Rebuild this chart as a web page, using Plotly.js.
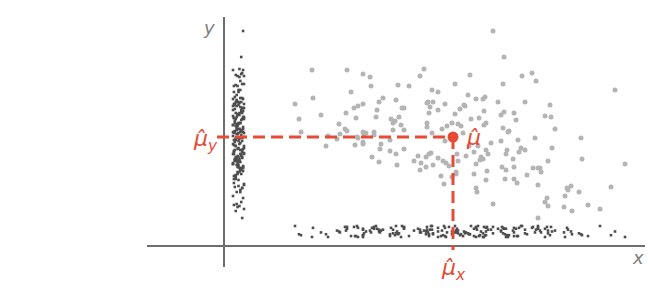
<!DOCTYPE html>
<html>
<head>
<meta charset="utf-8">
<script src="https://cdn.plot.ly/plotly-3.0.1.min.js"></script>
<style>html,body{margin:0;padding:0;background:#fff;}#chart{width:648px;height:300px;}</style>
</head>
<body>
<div id="chart"></div>
<script>
// scatter sample (x, y)
const sampleX = [88,123,139,146,147,174,127,71,89,159,155,172,139,134,130,153,122,97,75,132,152,167,169,115,175,77,104,121,123,113,116,102,131,133,134,139,142,140,139,139,150,150,157,156,166,166,172,148,155,173,169,171,177,
269,280,200,196,246,185,231,279,208,214,244,261,259,252,274,203,204,209,221,178,180,206,240,241,236,214,260,280,277,231,205,255,247,290,203,228,234,262,260,203,180,218,223,237,239,208,221,267,277,279,285,284,180,194,190,197,202,205,207,214,196,202,209,219,222,225,233,234,242,245,250,254,262,264,257,259,256,252,263,250,232,232,228,217,220,252,253,262,269,283,282,278,282,289,290,281,290,
298,308,312,391,301,326,321,327,292,331,311,357,294,297,295,301,328,324,358,401,309,314,316,317,303,293,314,343,344,347,355,387,341,323,321,324,340,348,364,376,314];
const sampleY = [176,176,172,169,160,161,154,142,148,148,144,146,142,140,138,136,133,131,127,128,129,127,123,122,129,114,110,117,115,107,112,100,101,109,108,114,113,112,104,102,114,111,102,97,106,95,92,89,84,81,116,125,121,
215,189,177,170,171,160,162,162,156,154,151,149,147,147,144,143,144,144,142,138,138,139,141,140,137,136,135,134,131,132,133,128,127,133,123,123,122,123,121,119,116,117,120,120,113,113,105,103,105,118,115,114,97,90,85,83,89,92,93,88,76,79,81,85,83,80,92,85,90,100,94,100,96,92,89,87,86,82,75,72,74,72,69,70,62,58,54,66,42,96,92,79,76,87,79,67,67,
170,173,165,156,144,141,130,129,126,117,108,108,106,98,94,96,98,85,87,82,78,78,78,74,71,63,61,58,56,60,54,59,50,48,44,40,39,35,41,37,28];

// estimated means
const muX = 229;
const muY = 109;

// rug placement (offset band from each axis) and axis labels
const rugBand = [9, 20];
const labels = {x: 'x', y: 'y', mu: 'μ̂', muX: 'μ̂<sub>x</sub>', muY: 'μ̂<sub>y</sub>'};

const red = '#e64b35';
// deterministic jitter inside the rug band
const jit = sampleX.map((_, i) => rugBand[0] + ((i * 37) % 13) / 12 * (rugBand[1] - rugBand[0]));

const traces = [
  {x: sampleX, y: sampleY, mode: 'markers', type: 'scatter',
   marker: {color: '#b4b4b4', size: 5}, hoverinfo: 'skip'},
  {x: jit, y: sampleY, mode: 'markers', type: 'scatter',
   marker: {color: '#4d4d4d', size: 2.6, symbol: 'square'}, hoverinfo: 'skip'},
  {x: sampleX, y: jit, mode: 'markers', type: 'scatter',
   marker: {color: '#4d4d4d', size: 2.6, symbol: 'square'}, hoverinfo: 'skip'},
  {x: [-7, muX], y: [muY, muY], mode: 'lines', type: 'scatter',
   line: {color: red, width: 3, dash: '12px,6px'}, hoverinfo: 'skip'},
  {x: [muX, muX], y: [muY, -4], mode: 'lines', type: 'scatter',
   line: {color: red, width: 3, dash: '12px,6px'}, hoverinfo: 'skip'},
  {x: [muX], y: [muY], mode: 'markers', type: 'scatter',
   marker: {color: red, size: 11}, hoverinfo: 'skip'}
];

const labFont = {family: 'DejaVu Sans', size: 22, color: red};
const axFont = {family: 'DejaVu Sans', size: 18, color: '#808080'};

const layout = {
  width: 648, height: 300,
  margin: {l: 147, r: 3, t: 17, b: 33},
  paper_bgcolor: '#fff', plot_bgcolor: '#fff',
  showlegend: false,
  xaxis: {range: [-77, 421], showgrid: false, showticklabels: false, ticks: '',
          zeroline: true, zerolinecolor: '#6e6e6e', zerolinewidth: 1.5, showline: false, fixedrange: true},
  yaxis: {range: [-21, 229], showgrid: false, showticklabels: false, ticks: '',
          zeroline: true, zerolinecolor: '#6e6e6e', zerolinewidth: 1.5, showline: false, fixedrange: true},
  annotations: [
    {x: -7, y: muY, xref: 'x', yref: 'y', text: '<i>' + labels.muY + '</i>', showarrow: false,
     xanchor: 'right', yanchor: 'middle', font: labFont, yshift: -3, xshift: 3},
    {x: muX, y: muY, xref: 'x', yref: 'y', text: '<i>' + labels.mu + '</i>', showarrow: false,
     xanchor: 'left', yanchor: 'middle', font: labFont, xshift: 11},
    {x: muX, y: -4, xref: 'x', yref: 'y', text: '<i>' + labels.muX + '</i>', showarrow: false,
     xanchor: 'center', yanchor: 'top', font: labFont, yshift: -3},
    {x: 0, y: 229, xref: 'x', yref: 'y', text: '<i>' + labels.y + '</i>', showarrow: false,
     xanchor: 'right', yanchor: 'top', font: axFont, xshift: -7, yshift: 2},
    {x: 421, y: 0, xref: 'x', yref: 'y', text: '<i>' + labels.x + '</i>', showarrow: false,
     xanchor: 'right', yanchor: 'top', font: axFont, xshift: 1, yshift: 1}
  ]
};

Plotly.newPlot('chart', traces, layout, {displayModeBar: false, staticPlot: true});
</script>
</body>
</html>
